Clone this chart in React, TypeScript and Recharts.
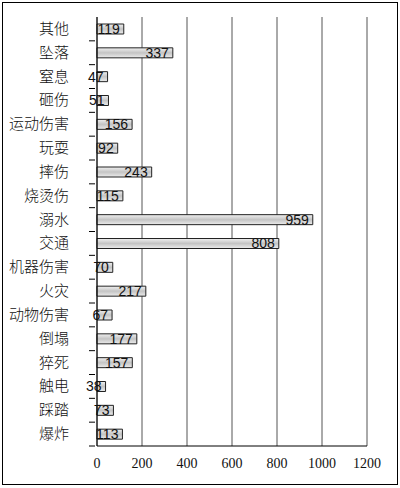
import { Bar, BarChart, CartesianGrid, LabelList, XAxis, YAxis } from "recharts";

const categories = [
  "其他", "坠落", "窒息", "砸伤", "运动伤害", "玩耍", "摔伤", "烧烫伤", "溺水",
  "交通", "机器伤害", "火灾", "动物伤害", "倒塌", "猝死", "触电", "踩踏", "爆炸",
];
const counts = [119, 337, 47, 51, 156, 92, 243, 115, 959, 808, 70, 217, 67, 177, 157, 38, 73, 113];
const xTicks = [0, 200, 400, 600, 800, 1000, 1200];

const data = categories.map((name, i) => ({ name, value: counts[i] }));

const W = 400;
const H = 488;
const margin = { top: 17, right: 33, bottom: 12, left: 0 };
const plotH = H - margin.top - margin.bottom - 30;
const band = plotH / categories.length;

const CatTick = (props: any) => {
  const { x, y, payload } = props;
  return (
    <g>
      <text x={x - 20} y={y} dy={5} textAnchor="end" fontSize={15} fill="#111"
        fontFamily="'Noto Sans CJK SC', sans-serif" fontWeight={300}>
        {payload.value}
      </text>
      <line x1={x} x2={x + 6} y1={y + band / 2} y2={y + band / 2} stroke="#000" />
    </g>
  );
};

const App = () => {
  return (
    <div style={{ position: "absolute", left: 0, top: 0, width: W, height: H, background: "#fff" }}>
      <div style={{ position: "absolute", left: 2, top: 2, width: 394, height: 481, border: "1px solid #000" }} />
      <BarChart width={W} height={H} data={data} layout="vertical" margin={margin} barSize={10}>
        <defs>
          <linearGradient id="barFill" x1="0" y1="0" x2="0" y2="1">
            <stop offset="0%" stopColor="#f0f0f0" />
            <stop offset="50%" stopColor="#c4c4c4" />
            <stop offset="100%" stopColor="#ececec" />
          </linearGradient>
        </defs>
        <CartesianGrid horizontal={false} stroke="#555" />
        <XAxis type="number" domain={[0, 1200]} ticks={xTicks} axisLine={{ stroke: "#000" }}
          tickLine={false} tickMargin={6} interval={0}
          tick={{ fontSize: 14, fill: "#111", fontFamily: "'Liberation Serif', serif" }} />
        <XAxis xAxisId="top" type="number" domain={[0, 1200]} orientation="top" height={0}
          tick={false} tickLine={false} axisLine={{ stroke: "#000" }} />
        <YAxis type="category" dataKey="name" width={97} axisLine={{ stroke: "#000" }}
          tickLine={false} interval={0} tick={<CatTick />} />
        <Bar dataKey="value" fill="url(#barFill)" stroke="#222" strokeWidth={1} isAnimationActive={false}>
          <LabelList dataKey="value" position="insideRight" offset={4} fontSize={14} fill="#111"
            fontFamily="'Liberation Sans', sans-serif" />
        </Bar>
        <Bar dataKey="value" xAxisId="top" hide isAnimationActive={false} />
      </BarChart>
    </div>
  );
};

export default App;
